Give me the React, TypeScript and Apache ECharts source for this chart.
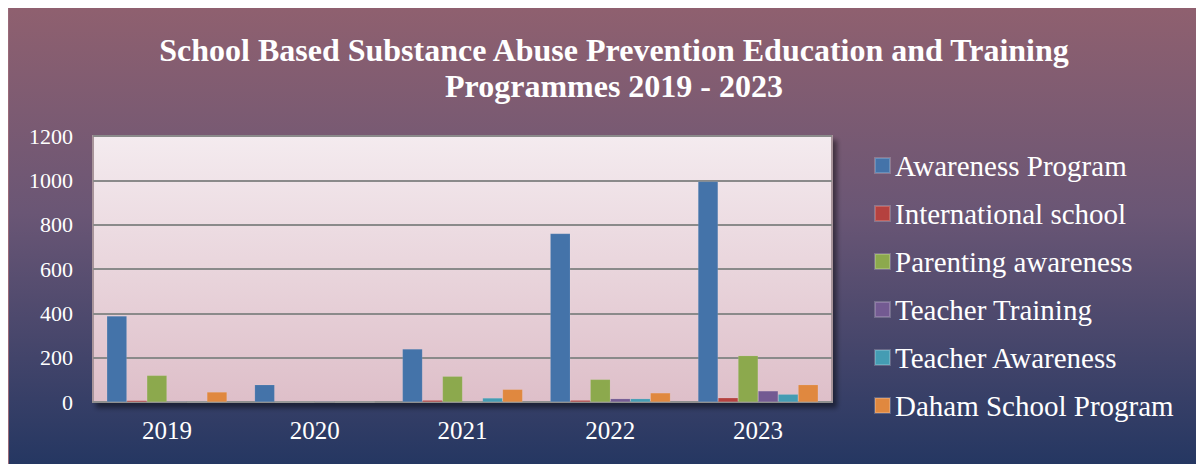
import React, { useEffect, useRef } from "react";
import * as echarts from "echarts";

const years = ["2019", "2020", "2021", "2022", "2023"];
const seriesNames = [
  "Awareness Program",
  "International school",
  "Parenting awareness",
  "Teacher Training",
  "Teacher Awareness",
  "Daham School Program",
];
const awarenessProgram = [388, 78, 239, 760, 995];
const internationalSchool = [7, 0, 8, 8, 19];
const parentingAwareness = [120, 0, 116, 102, 209];
const teacherTraining = [3, 3, 0, 15, 50];
const teacherAwareness = [0, 0, 18, 15, 35];
const dahamSchoolProgram = [45, 0, 57, 41, 78];
const yTicks = { min: 0, max: 1200, interval: 200 };

const colors = ["#4473A9", "#B5413F", "#8CA94D", "#735A92", "#449CB3", "#E0883F"];
const FONT = "'Liberation Serif', 'Times New Roman', serif";

export default function App() {
  const ref = useRef<HTMLDivElement>(null);
  useEffect(() => {
    if (!ref.current) return;
    const chart = echarts.init(ref.current, undefined, { renderer: "svg" });
    const values = [
      awarenessProgram,
      internationalSchool,
      parentingAwareness,
      teacherTraining,
      teacherAwareness,
      dahamSchoolProgram,
    ];
    chart.setOption({
      animation: false,
      backgroundColor: "transparent",
      color: colors,
      title: {
        text: "School Based Substance Abuse Prevention Education and Training\nProgrammes 2019 - 2023",
        left: 601,
        top: 19,
        textAlign: "center",
        textStyle: {
          color: "#ffffff",
          fontFamily: FONT,
          fontWeight: "bold",
          fontSize: 32,
          lineHeight: 36,
        },
      },
      legend: {
        orient: "vertical",
        left: 861,
        top: 138,
        itemWidth: 15,
        itemHeight: 15,
        itemGap: 19,
        icon: "rect",
        textStyle: {
          color: "#ffffff",
          fontFamily: FONT,
          fontSize: 29,
          lineHeight: 28,
        },
        data: seriesNames,
      },
      grid: {
        left: 85,
        top: 128,
        right: 372,
        bottom: 62,
        show: true,
        backgroundColor: new echarts.graphic.LinearGradient(0, 0, 0, 1, [
          { offset: 0, color: "#F4EBEF" },
          { offset: 1, color: "#DEBFC9" },
        ]),
        borderColor: "#A8949A",
        borderWidth: 2,
        shadowColor: "rgba(0,0,0,0.45)",
        shadowBlur: 5,
        shadowOffsetX: 4,
        shadowOffsetY: 5,
      },
      xAxis: {
        type: "category",
        data: years,
        axisLine: { show: true, lineStyle: { color: "#8E8E8E", width: 2 } },
        axisTick: { show: false },
        axisLabel: {
          color: "#ffffff",
          fontFamily: FONT,
          fontSize: 25,
          margin: 16,
        },
      },
      yAxis: {
        type: "value",
        min: yTicks.min,
        max: yTicks.max,
        interval: yTicks.interval,
        axisLine: { show: false },
        axisTick: { show: false },
        splitLine: { show: true, lineStyle: { color: "#8A8A8A", width: 2 } },
        axisLabel: {
          color: "#ffffff",
          fontFamily: FONT,
          fontSize: 22,
          margin: 20,
          formatter: (v: number) => String(v),
        },
      },
      series: seriesNames.map((name, i) => ({
        name,
        type: "bar",
        data: values[i],
        barGap: "0%",
        barCategoryGap: "18.7%",
        itemStyle: {
          color: colors[i],
          borderColor: "rgba(255,255,255,0.2)",
          borderWidth: 0.5,
        },
      })),
    });
    return () => chart.dispose();
  }, []);
  return (
    <div
      ref={ref}
      style={{
        width: 1196,
        height: 456,
        background: "linear-gradient(to bottom, #8F606F 0%, #6A5675 45%, #253762 100%)",
        boxShadow: "inset 1px 0 0 #9A6A78",
      }}
    />
  );
}
